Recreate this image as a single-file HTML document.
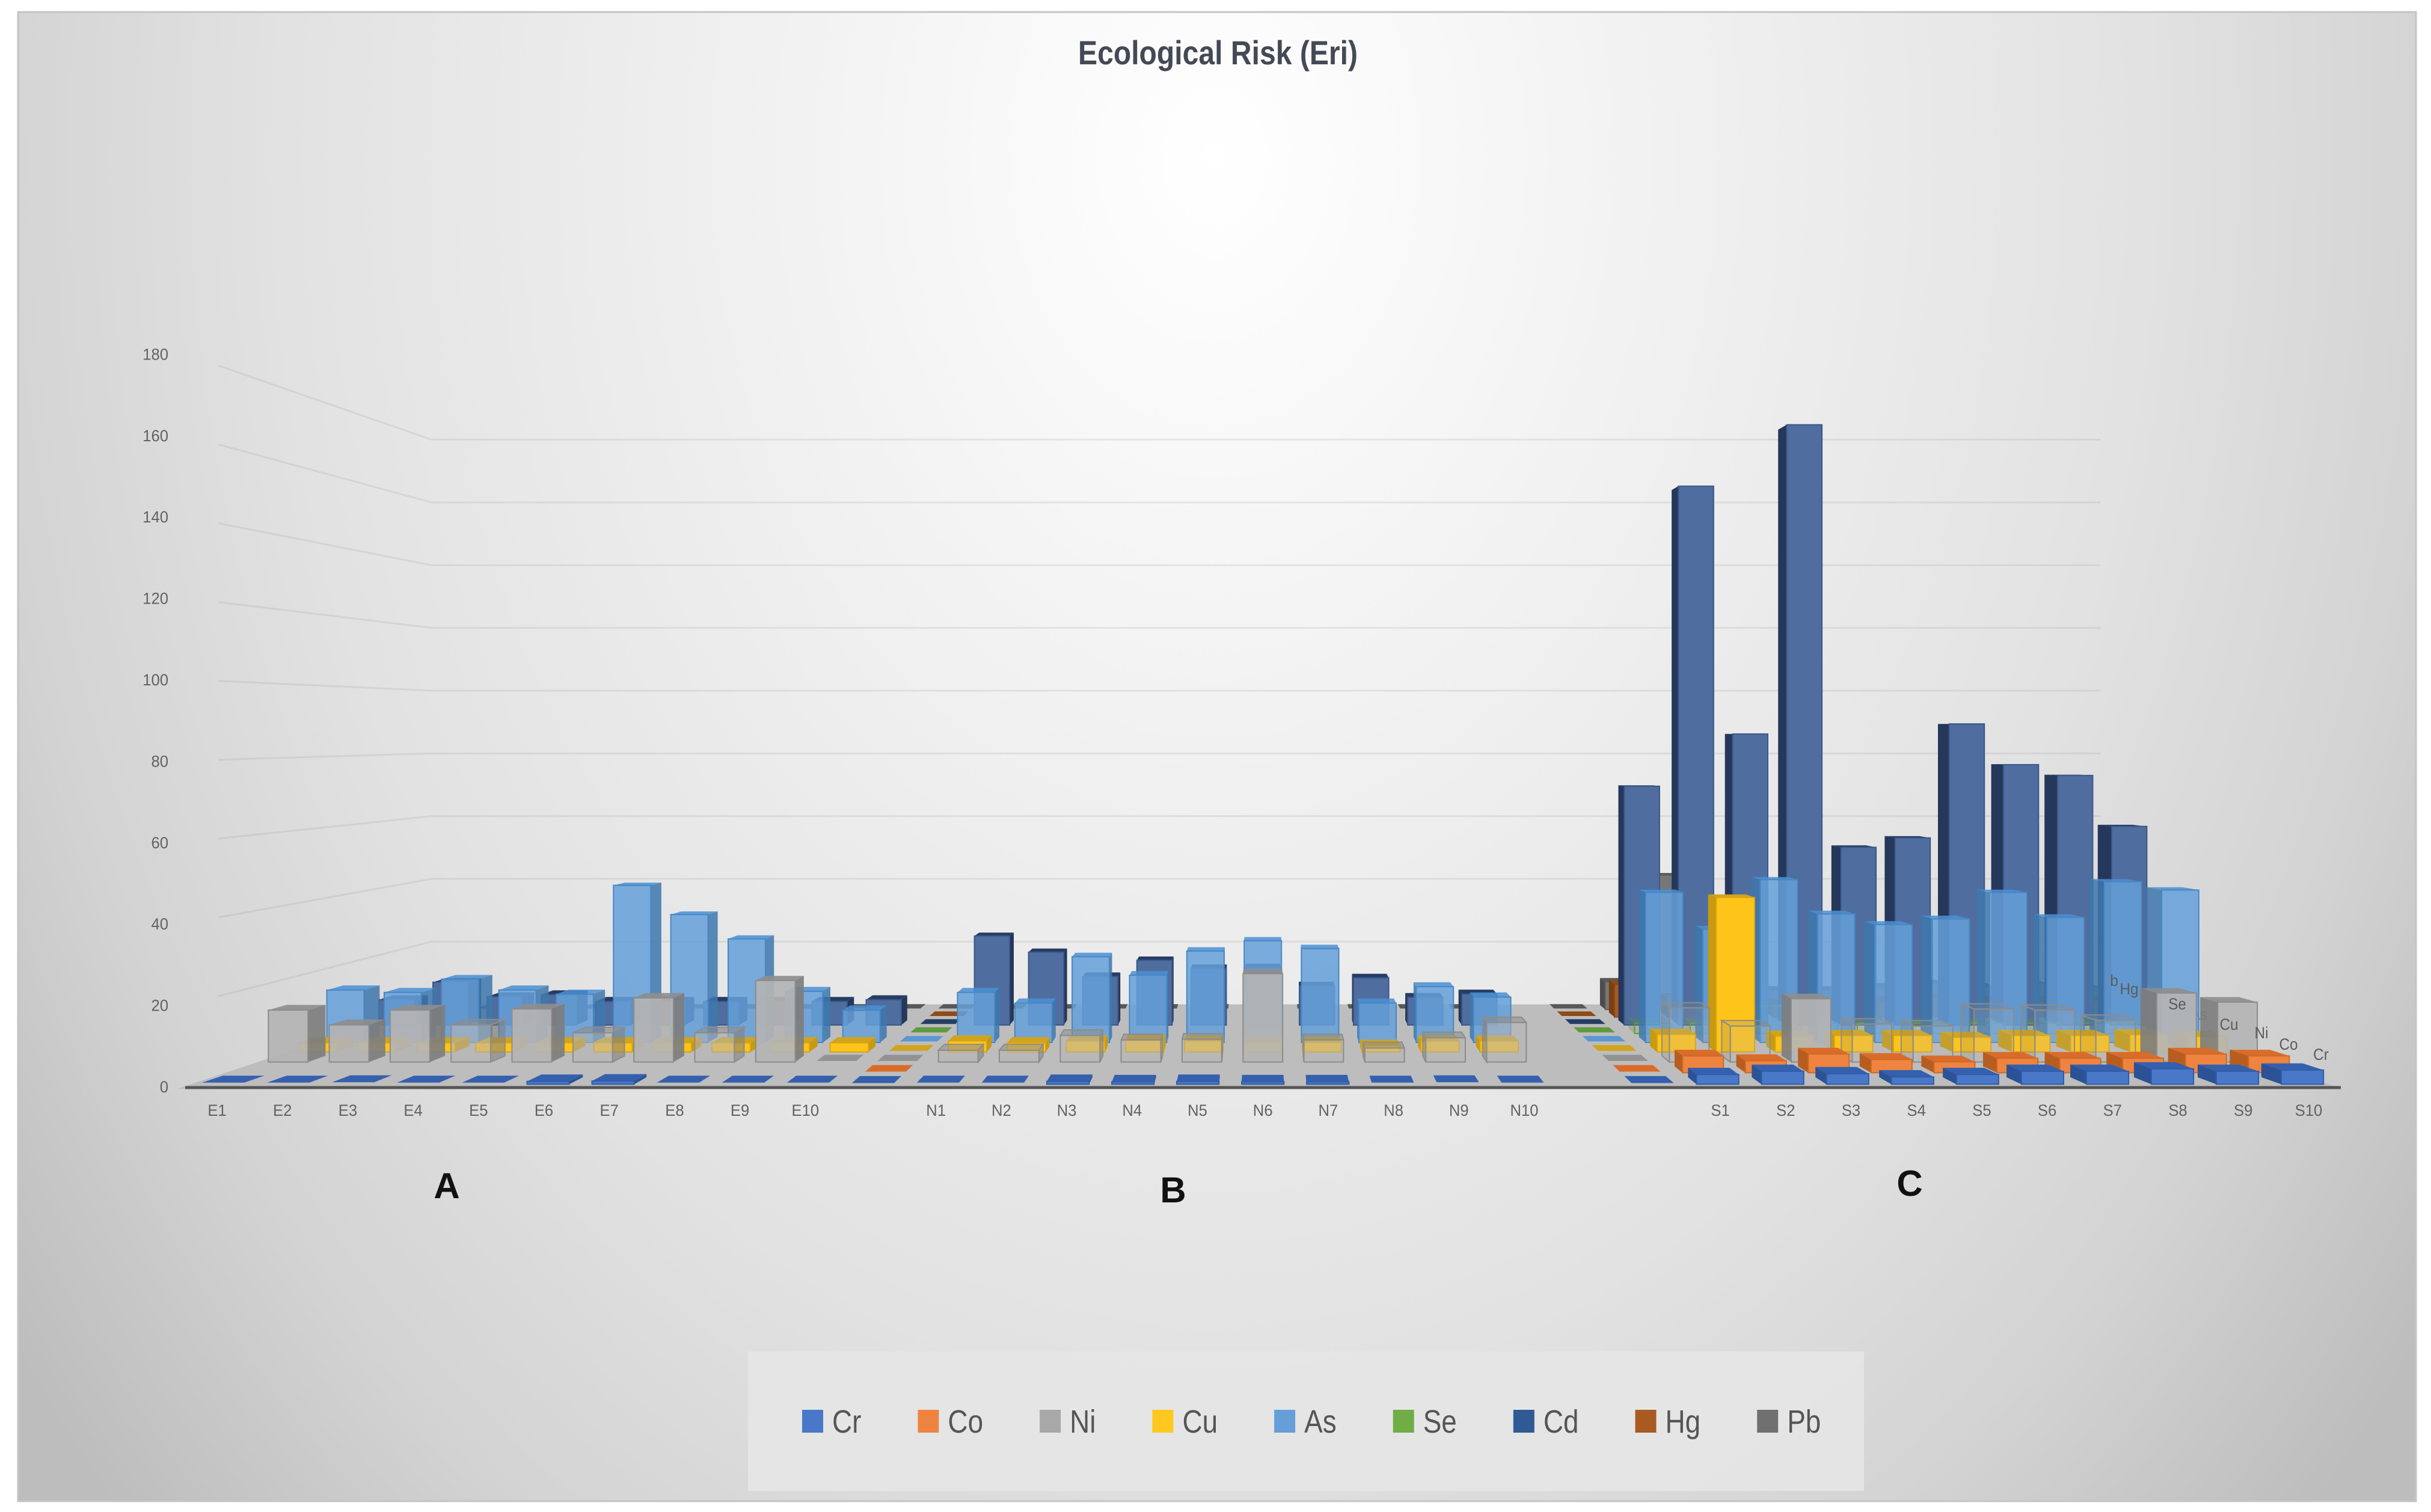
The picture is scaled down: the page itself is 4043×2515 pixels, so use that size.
<!DOCTYPE html>
<html lang="en">
<head>
<meta charset="utf-8">
<title>Ecological Risk (Eri)</title>
<style>
html,body{margin:0;padding:0;background:#fff;width:4043px;height:2515px;overflow:hidden}
svg{display:block}
text{font-family:"Liberation Sans",sans-serif}
</style>
</head>
<body>
<svg id="chart" xmlns="http://www.w3.org/2000/svg" width="4043" height="2515" viewBox="0 0 4043 2515">
  <defs>
    <radialGradient id="bgGrad" gradientUnits="userSpaceOnUse" cx="0" cy="0" r="1" gradientTransform="translate(2020 260) scale(2500 3300)">
      <stop offset="0" stop-color="#ffffff"/>
      <stop offset="0.3" stop-color="#f1f1f1"/>
      <stop offset="0.62" stop-color="#e2e2e2"/>
      <stop offset="0.82" stop-color="#d3d3d3"/>
      <stop offset="1" stop-color="#bdbdbd"/>
    </radialGradient>
    <clipPath id="pbClip"><rect x="3508" y="1600" width="60" height="60"/></clipPath>
  </defs>
  <rect x="30" y="20" width="3988" height="2477" fill="url(#bgGrad)" stroke="#c4c4c4" stroke-width="3"/>
  <text x="1793" y="107" font-size="56" font-weight="bold" fill="#444a55" textLength="465" lengthAdjust="spacingAndGlyphs">Ecological Risk (Eri)</text>
  <g id="walls"></g>
  <g id="bars"></g>
  <g id="axes"></g>
  <text x="743" y="1993" font-size="60" font-weight="bold" fill="#111" text-anchor="middle">A</text>
  <text x="1951" y="2000" font-size="60" font-weight="bold" fill="#111" text-anchor="middle">B</text>
  <text x="3176" y="1989" font-size="60" font-weight="bold" fill="#111" text-anchor="middle">C</text>
  <g id="legend">
    <rect x="1244" y="2248" width="1856" height="232" fill="#e5e5e5" fill-opacity="0.9"/>
  </g>
</svg>
<script>
const categories = ['E1','E2','E3','E4','E5','E6','E7','E8','E9','E10','','N1','N2','N3','N4','N5','N6','N7','N8','N9','N10','','','S1','S2','S3','S4','S5','S6','S7','S8','S9','S10'];
const yTicks = [0,20,40,60,80,100,120,140,160,180];
const seriesNames = ['Cr','Co','Ni','Cu','As','Se','Cd','Hg','Pb'];
const crValues = [0.4,0.4,0.5,0.4,0.4,0.7,0.8,0.4,0.4,0.4, 0.3, 0.4,0.4,0.7,0.6,0.7,0.6,0.6,0.4,0.5,0.4, null,0.3, 2.4,3.2,2.6,1.8,2.4,3.2,3.2,3.8,3.2,3.5];
const coValues = [null,null,null,null,null,null,null,null,null,null, 0.3, null,null,null,null,null,null,null,null,null,null, null,0.3, 4.3,3.1,4.8,3.4,2.8,3.7,3.7,3.7,4.8,4.3];
const niValues = [13.7,9.8,13.7,9.8,14,7.7,16.9,7.7,21.5,0.3, 0.3, 3.1,3.1,7,5.8,6,23.3,5.8,3.7,6.4,10.4, null,0.3, 14.3,9.5,16.7,10,9.5,14,13.7,11,18.2,15.8];
const cuValues = [2.5,2.5,2.5,2.5,2.5,2.5,2.5,2.5,2.5,2.5, 0.3, 3,2.5,3,3.2,3,2.5,2.6,1.8,3,3, null,0.3, 4.8,42,4.3,4.5,4.5,4,4.5,4.5,4.7,4.2];
const asValues = [14.7,14,17.7,14.7,13.5,44,35.8,29,14.3,9, 0.3, 14,11,24,18.8,25.6,28.5,26.3,11,15.6,12.7, null,0.3, 42,31.7,45.6,36,33,34.6,42,35,45,42.7];
const seValues = [null,null,null,null,null,null,null,null,null,null, 0.3, null,null,null,null,null,null,null,null,null,null, null,0.3, 3,3,8,3,3,3,3,3,3,3];
const cdValues = [7.5,12.7,8.4,9,7,7,7,7,7,7.5, 0.3, 26.4,21.6,14.4,19.2,16.8,17,11.6,14,8.2,9.2, null,0.3, 70.8,159.8,86.3,178,52.7,55.5,89.3,77.2,74,58.9];
const hgValues = [null,null,null,null,null,null,null,null,null,null, 0.3, null,null,null,null,null,null,null,null,null,null, null,0.3, 10,6,5,4,4,5,6,5,5,5];
const pbValues = [0.3,0.3,0.3,0.3,0.3,0.3,0.3,0.3,0.3,0.3, 0.3, 0.3,0.3,0.3,0.3,0.3,0.3,0.3,0.3,0.3,0.3, null,0.3, 8.6,42,7,6,6,7,8,7,8,7];
const ghostNickel = ['E4','E6','E8','N1','N2','N3','N4','N5','N7','N8','N9','N10','S1','S2','S4','S5','S6','S7','S8'];

const allSeries = [crValues,coValues,niValues,cuValues,asValues,seValues,cdValues,hgValues,pbValues];
const NS = 'http://www.w3.org/2000/svg';
const VANISH_X = 2100, HORIZON_Y = 1212, FLOOR_DROP = 595, UNIT_Y = 6.77, FIRST_X = 361, STEP_X = 108.7;
const BAR_HALF = 0.325, DEPTH_HALF = 0.3, FRONT_D = -0.68, REAR_D = 8.4;

function depthScale(d){return 1/(1.016+0.0335*d);}
function xAxis(c,d){return VANISH_X+(FIRST_X+STEP_X*c-VANISH_X)*depthScale(d);}
function yAxis(v,d){return HORIZON_Y+(FLOOR_DROP-UNIT_Y*v)*depthScale(d);}
function pt(c,d,v){return xAxis(c,d).toFixed(1)+','+yAxis(v,d).toFixed(1);}

const faceColors = {
  Cr:{front:'#4a78c8',top:'#3560ae',side:'#2c5296',line:'#2f5ca8'},
  Co:{front:'#ee8440',top:'#d96c2a',side:'#b85d20',line:'#cf6a26'},
  Ni:{front:'#b4b4b4',top:'#8e8e8e',side:'#7e7e7e',line:'#8c8c8c'},
  Cu:{front:'#ffc41a',top:'#d0a41c',side:'#c79a10',line:'#d8a410'},
  As:{front:'#659fd8',top:'#4a90d4',side:'#3f78ac',line:'#4787c4'},
  Se:{front:'#70ad47',top:'#5f9a3c',side:'#4f8030',line:'#5f9a3c'},
  Cd:{front:'#4f6d9e',top:'#263c64',side:'#25375a',line:'#3a5888'},
  Hg:{front:'#a85a20',top:'#8e4a18',side:'#7a3f12',line:'#8e4a18'},
  Pb:{front:'#777777',top:'#585858',side:'#4c4c4c',line:'#606060'}
};
const legendColors = {Cr:'#4a78c8',Co:'#ee8440',Ni:'#a8a8a8',Cu:'#ffc81e',As:'#659fd8',Se:'#70ad47',Cd:'#305a94',Hg:'#a85a20',Pb:'#707070'};

function poly(parent,points,fill,stroke,fillOpacity){
  const p=document.createElementNS(NS,'polygon');
  p.setAttribute('points',points.join(' '));
  p.setAttribute('fill',fill);
  p.setAttribute('fill-opacity',fillOpacity===undefined?1:fillOpacity);
  if(stroke){p.setAttribute('stroke',stroke);p.setAttribute('stroke-width','2');}
  parent.appendChild(p);
  return p;
}
function textAt(parent,str,x,y,size,fill,anchor,sx){
  const t=document.createElementNS(NS,'text');
  t.setAttribute('transform','translate('+x+' '+y+') scale('+sx+' 1)');
  t.setAttribute('font-size',size);
  t.setAttribute('fill',fill);
  t.setAttribute('text-anchor',anchor);
  t.textContent=str;
  parent.appendChild(t);
  return t;
}

/* walls: floor and gridlines */
const walls=document.getElementById('walls');
yTicks.forEach(function(v){
  if(v===0)return;
  const g=document.createElementNS(NS,'polyline');
  
  
  g.setAttribute('points',pt(-0.5,0.5,v)+' '+pt(-0.5,REAR_D,v)+' '+pt(32.63,REAR_D,v));
  g.setAttribute('fill','none');
  g.setAttribute('stroke','rgba(140,140,140,0.17)');
  g.setAttribute('stroke-width','3');
  walls.appendChild(g);
});
const floorPoly=poly(walls,[pt(-0.5,FRONT_D,0),pt(-0.5,REAR_D,0),pt(32.63,REAR_D,0),pt(32.4,FRONT_D,0)],'#bdbdbd');



/* labels hidden behind bars */
const bars=document.getElementById('bars');
const depthLabelSpots={Cr:[3860,1763],Co:[3806,1746],Ni:[3761,1727],Cu:[3707,1713],As:[3657,1696],Se:[3621,1679],Cd:[3587,1669],Hg:[3541,1654],Pb:[3508,1640]};
function depthLabel(parent,name){
  const s=depthLabelSpots[name];
  const t=textAt(parent,name,s[0],s[1],27,'#5c5c5c','middle',0.9);
  
  
  return t;
}
depthLabel(bars,'As');
depthLabel(bars,'Cd');

/* bars, back to front */
for(let d=allSeries.length-1;d>=0;d--){
  const name=seriesNames[d];
  const col=faceColors[name];
  const values=allSeries[d];
  values.forEach(function(v,c){
    if(v===null)return;
    const catName=categories[c]||'blank';
    const g=document.createElementNS(NS,'g');
    
    
    const df=d-DEPTH_HALF, db=d+DEPTH_HALF, l=c-BAR_HALF, r=c+BAR_HALF;
    let faceOp=1, stroke=null, edge=null;
    if(name==='As'){faceOp=0.86;}
    if(name==='Se'&&v>0.5){faceOp=0.25;}
    if(name==='Ni'){
      const isGhost=ghostNickel.indexOf(categories[c])>=0;
      const isSoil=catName.charAt(0)==='S';
      faceOp=isGhost?(isSoil?0.2:0.55):0.92;
      stroke=col.line;
      if(isGhost){edge=col.line;}
    }
    poly(g,[pt(l,df,v),pt(r,df,v),pt(r,db,v),pt(l,db,v)],col.top,edge,faceOp);
    const sideC=(FIRST_X+STEP_X*c<VANISH_X)?r:l;
    if(v>0.5){
      poly(g,[pt(sideC,df,0),pt(sideC,db,0),pt(sideC,db,v),pt(sideC,df,v)],col.side,edge,faceOp);
      poly(g,[pt(l,df,0),pt(r,df,0),pt(r,df,v),pt(l,df,v)],col.front,stroke||col.line,faceOp);
    }
    bars.appendChild(g);
  });
}

/* axes */
const axes=document.getElementById('axes');
const baseLine=document.createElementNS(NS,'line');


baseLine.setAttribute('x1','308');
baseLine.setAttribute('x2','3893');
baseLine.setAttribute('y1','1809');
baseLine.setAttribute('y2','1809');
baseLine.setAttribute('stroke','#555');
baseLine.setAttribute('stroke-width','5');
axes.appendChild(baseLine);
categories.forEach(function(name,c){
  if(!name)return;
  const t=textAt(axes,name,FIRST_X+STEP_X*c,1856,27,'#626262','middle',0.95);
  
  
});
yTicks.forEach(function(v){
  const t=textAt(axes,String(v),280,1807-UNIT_Y*v+10,27,'#626262','end',0.95);
  
  
});
['Cr','Co','Ni','Cu','Se','Hg'].forEach(function(name){
  depthLabel(axes,name);
});
const pbLabel=depthLabel(axes,'Pb');
const pbWrap=document.createElementNS(NS,'g');
pbWrap.setAttribute('clip-path','url(#pbClip)');


axes.appendChild(pbWrap);
pbWrap.appendChild(pbLabel);

/* legend */
const legend=document.getElementById('legend');
let legendX=1334;
seriesNames.forEach(function(name){
  const g=document.createElementNS(NS,'g');
  
  
  legend.appendChild(g);
  const sw=document.createElementNS(NS,'rect');
  
  
  sw.setAttribute('x',legendX);
  sw.setAttribute('y',2345);
  sw.setAttribute('width',35);
  sw.setAttribute('height',38);
  sw.setAttribute('fill',legendColors[name]);
  g.appendChild(sw);
  const t=textAt(g,name,legendX+50,2383,54,'#555555','start',0.85);
  
  
  legendX+=50+t.getComputedTextLength()*0.85+94;
});
</script>
</body>
</html>
